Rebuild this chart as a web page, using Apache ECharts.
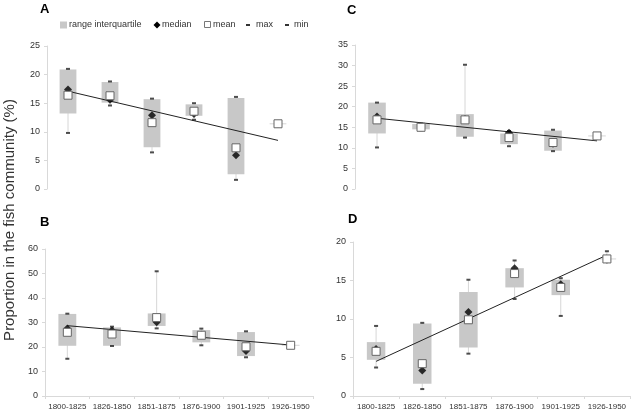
<!DOCTYPE html>
<html>
<head>
<meta charset="utf-8">
<script src="https://cdn.jsdelivr.net/npm/echarts@6/dist/echarts.min.js"></script>
<style>
html,body{margin:0;padding:0;background:#fff;}
#chart{width:634px;height:414px;}
</style>
</head>
<body>
<div id="chart"></div>
<script>
// ---------- data ----------
var categories = ['1800-1825','1826-1850','1851-1875','1876-1900','1901-1925','1926-1950'];

// Panel A
var q1A   = [13.2, 15.1, 7.3, 12.8, 2.6, 11.3];
var q3A   = [20.9, 18.7, 15.7, 14.8, 15.9, 11.5];
var medA  = [17.4, 15.6, 12.9, 13.1, 5.9, 11.4];
var meanA = [16.4, 16.3, 11.6, 13.6, 7.2, 11.4];
var maxA  = [21.0, 18.8, 15.8, 15.0, 16.1, 11.6];
var minA  = [9.8, 14.6, 6.4, 12.1, 1.6, 11.2];
var trendA = [17.1, 8.5];
var ticksA = [0, 25, 5];

// Panel B
var q1B   = [20.5, 20.5, 28.6, 21.9, 16.3, 20.5];
var q3B   = [33.5, 28.0, 33.7, 26.9, 26.1, 20.9];
var medB  = [27.6, 26.7, 30.1, 25.0, 18.4, 20.7];
var meanB = [26.0, 25.3, 32.0, 24.8, 20.1, 20.7];
var maxB  = [33.6, 28.3, 50.9, 27.5, 26.4, 21.0];
var minB  = [15.2, 20.4, 27.6, 20.7, 15.8, 20.3];
var trendB = [28.7, 20.8];
var ticksB = [0, 60, 10];

// Panel C
var q1C   = [13.5, 14.5, 12.7, 10.9, 9.3, 12.8];
var q3C   = [21.0, 15.8, 18.2, 13.5, 14.2, 13.0];
var medC  = [17.6, 15.0, 17.0, 13.7, 11.0, 12.9];
var meanC = [16.8, 15.0, 16.8, 12.5, 11.3, 12.9];
var maxC  = [21.0, 15.9, 30.2, 14.1, 14.4, 13.1];
var minC  = [10.1, 14.3, 12.5, 10.4, 9.2, 12.7];
var trendC = [17.2, 11.7];
var ticksC = [0, 35, 5];

// Panel D
var q1D   = [4.7, 1.6, 6.3, 14.1, 13.1, 17.7];
var q3D   = [7.0, 9.4, 13.5, 16.6, 15.1, 17.9];
var medD  = [6.1, 3.3, 10.9, 16.6, 14.5, 17.7];
var meanD = [5.8, 4.2, 9.9, 15.9, 14.1, 17.8];
var maxD  = [9.1, 9.5, 15.1, 17.6, 15.3, 18.8];
var minD  = [3.7, 0.9, 5.5, 12.6, 10.4, 17.5];
var trendD = [4.5, 18.3];
var ticksD = [0, 20, 5];

var panelLetters = ['A','B','C','D'];
var legendNames = ['range interquartile','median','mean','max','min'];
var yTitle = 'Proportion in the fish community (%)';

// ---------- styling ----------
var FONT = '"Liberation Sans", Arial, sans-serif';
var BOX = '#c8c8c8';
var AXIS = '#d9d9d9';
var TXT = '#333333';

var panels = [
  {q1:q1A,q3:q3A,med:medA,mean:meanA,max:maxA,min:minA,trend:trendA,ticks:ticksA,
   grid:{left:47, top:46, width:252, height:143}, showX:false},
  {q1:q1B,q3:q3B,med:medB,mean:meanB,max:maxB,min:minB,trend:trendB,ticks:ticksB,
   grid:{left:45, top:249, width:268, height:147}, showX:true},
  {q1:q1C,q3:q3C,med:medC,mean:meanC,max:maxC,min:minC,trend:trendC,ticks:ticksC,
   grid:{left:355, top:45, width:264, height:144}, showX:false},
  {q1:q1D,q3:q3D,med:medD,mean:meanD,max:maxD,min:minD,trend:trendD,ticks:ticksD,
   grid:{left:353, top:242, width:277, height:154}, showX:true}
];

var grids = [], xAxes = [], yAxes = [], series = [];

panels.forEach(function(p, i){
  grids.push({left:p.grid.left, top:p.grid.top, width:p.grid.width, height:p.grid.height, containLabel:false});
  xAxes.push({
    type:'category', gridIndex:i, data:categories, boundaryGap:true,
    axisLine:{show:p.showX, lineStyle:{color:AXIS, width:1}},
    axisTick:{show:p.showX, length:3, lineStyle:{color:AXIS}},
    axisLabel:{show:p.showX, fontSize:8, color:TXT, fontFamily:FONT, margin:7, interval:0},
    splitLine:{show:false}
  });
  yAxes.push({
    type:'value', gridIndex:i, min:p.ticks[0], max:p.ticks[1], interval:p.ticks[2],
    axisLine:{show:true, lineStyle:{color:AXIS, width:1}},
    axisTick:{show:true, length:3, lineStyle:{color:AXIS}},
    axisLabel:{fontSize:9, color:TXT, fontFamily:FONT, margin:7},
    splitLine:{show:false}
  });

  var boxData = categories.map(function(c, k){ return [k, p.q1[k], p.q3[k], p.min[k], p.max[k]]; });
  series.push({
    name:'range interquartile', type:'custom', xAxisIndex:i, yAxisIndex:i,
    data: boxData,
    encode:{x:0, y:[1,2,3,4]},
    z:2,
    renderItem:function(params, api){
      var x = api.value(0);
      var pQ1 = api.coord([x, api.value(1)]);
      var pQ3 = api.coord([x, api.value(2)]);
      var pMin = api.coord([x, api.value(3)]);
      var pMax = api.coord([x, api.value(4)]);
      var w = api.size([1, 0])[0] * 0.4;
      var thin = (pQ1[1] - pQ3[1]) < 2;
      var h = thin ? 1 : (pQ1[1] - pQ3[1]);
      var yTop = thin ? (pQ1[1] + pQ3[1]) / 2 - 0.5 : pQ3[1];
      return {
        type:'group',
        children:[
          {type:'line', shape:{x1:pMin[0], y1:pMin[1], x2:pMax[0], y2:pMax[1]},
           style:{stroke:'#d6d6d6', lineWidth:1}},
          {type:'rect', shape:{x:pQ3[0] - w/2, y:yTop, width:w, height:h},
           style:{fill: thin ? '#d6d6d6' : BOX}}
        ]
      };
    }
  });
  series.push({
    name:'trend', type:'line', xAxisIndex:i, yAxisIndex:i,
    data:[[0, p.trend[0]], [categories.length - 1, p.trend[1]]],
    symbol:'none', lineStyle:{color:'#222', width:1}, z:3, silent:true
  });
  series.push({
    name:'max', type:'scatter', xAxisIndex:i, yAxisIndex:i, data:p.max,
    symbol:'rect', symbolSize:[4,2], itemStyle:{color:'#222'}, z:4
  });
  series.push({
    name:'min', type:'scatter', xAxisIndex:i, yAxisIndex:i, data:p.min,
    symbol:'rect', symbolSize:[4,2], itemStyle:{color:'#222'}, z:4
  });
  series.push({
    name:'median', type:'scatter', xAxisIndex:i, yAxisIndex:i, data:p.med,
    symbol:'diamond', symbolSize:8, itemStyle:{color:'#000'}, z:5
  });
  series.push({
    name:'mean', type:'scatter', xAxisIndex:i, yAxisIndex:i, data:p.mean,
    symbol:'rect', symbolSize:8, itemStyle:{color:'#fff', borderColor:'#666', borderWidth:1, opacity:1}, z:6
  });
});

var letterPos = [[40, 3], [40, 216], [347, 4], [348, 213]];
var titles = panelLetters.map(function(t, i){
  return {text:t, left:letterPos[i][0], top:letterPos[i][1], padding:0,
          textStyle:{fontSize:13, fontWeight:'bold', color:'#000', fontFamily:FONT}};
});

// Legend built from graphic elements
var LY = 25;
var legendGraphics = [
  {type:'rect', shape:{x:60, y:LY-3.5, width:7, height:7}, style:{fill:BOX}},
  {type:'text', x:69, y:LY, style:{text:legendNames[0], fontSize:9, fill:TXT, fontFamily:FONT, verticalAlign:'middle'}},
  {type:'polygon', shape:{points:[[157,LY-3.5],[160.5,LY],[157,LY+3.5],[153.5,LY]]}, style:{fill:'#000'}},
  {type:'text', x:162, y:LY, style:{text:legendNames[1], fontSize:9, fill:TXT, fontFamily:FONT, verticalAlign:'middle'}},
  {type:'rect', shape:{x:204.5, y:LY-3.5, width:6, height:6}, style:{fill:'#fff', stroke:'#777', lineWidth:1}},
  {type:'text', x:213, y:LY, style:{text:legendNames[2], fontSize:9, fill:TXT, fontFamily:FONT, verticalAlign:'middle'}},
  {type:'rect', shape:{x:246, y:LY-1, width:4, height:2}, style:{fill:'#333'}},
  {type:'text', x:256, y:LY, style:{text:legendNames[3], fontSize:9, fill:TXT, fontFamily:FONT, verticalAlign:'middle'}},
  {type:'rect', shape:{x:285, y:LY-1, width:4, height:2}, style:{fill:'#333'}},
  {type:'text', x:294, y:LY, style:{text:legendNames[4], fontSize:9, fill:TXT, fontFamily:FONT, verticalAlign:'middle'}},
  {type:'text', x:10, y:220, rotation:Math.PI/2,
   style:{text:yTitle, fontSize:15, fill:TXT, fontFamily:FONT, align:'center', verticalAlign:'middle'}}
];

var chart = echarts.init(document.getElementById('chart'), null, {renderer:'canvas'});
chart.setOption({
  animation:false,
  backgroundColor:'#fff',
  title: titles,
  grid: grids,
  xAxis: xAxes,
  yAxis: yAxes,
  series: series,
  graphic: legendGraphics
});
</script>
</body>
</html>
